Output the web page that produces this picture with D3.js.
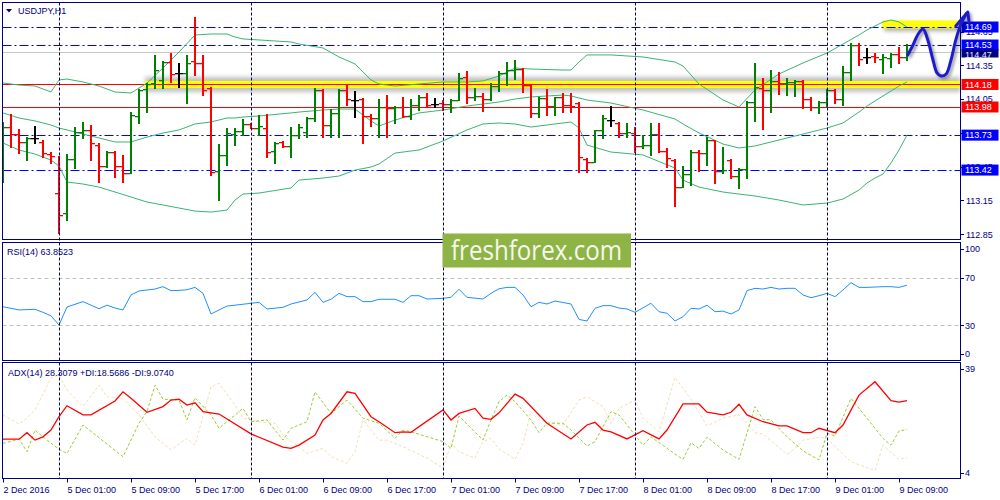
<!DOCTYPE html>
<html><head><meta charset="utf-8">
<script src="https://cdn.jsdelivr.net/npm/d3@7/dist/d3.min.js"></script>
<style>
html,body{margin:0;padding:0;background:#fff;overflow:hidden}
svg{display:block}
text{font-family:"Liberation Sans",Arial,sans-serif;font-size:9px;fill:#000080}
</style></head><body>
<svg id="chart" width="1000" height="500"></svg>
<script>
// ---------------- DATA ----------------
const symbolTitle = "USDJPY,H1";
const rsiTitle = "RSI(14) 63.8523";
const adxTitle = "ADX(14) 28.3079 +DI:18.5686 -DI:9.0740";

const open = [113.687,113.802,113.740,113.669,113.705,113.669,113.562,113.216,113.039,113.518,
113.758,113.776,113.642,113.456,113.580,113.456,113.394,113.900,114.140,114.193,
114.220,114.379,114.282,114.282,114.388,114.371,114.149,113.412,113.554,113.740,
113.767,113.829,113.793,113.793,113.589,113.669,113.634,113.731,113.758,113.882,
114.131,113.820,113.927,114.131,114.042,114.051,113.900,113.882,113.980,113.971,
113.980,113.900,113.998,114.069,114.006,114.015,114.006,114.042,114.246,114.069,
114.078,114.051,114.166,114.282,114.308,114.317,114.175,113.927,114.060,113.989,
114.069,113.998,114.015,113.518,113.491,113.776,113.864,113.838,113.749,113.749,
113.634,113.642,113.740,113.589,113.509,113.269,113.385,113.580,113.571,113.687,
113.412,113.509,113.367,113.429,114.024,114.149,114.131,114.211,114.193,114.202,
114.211,114.051,113.980,114.024,114.131,114.051,114.291,114.530,114.424,114.433,
114.406,114.415,114.450,114.424];
const high = [113.847,113.918,113.784,113.713,113.811,113.687,113.580,113.545,113.562,113.802,
113.847,113.820,113.660,113.589,113.589,113.554,113.935,114.140,114.193,114.442,
114.388,114.459,114.371,114.442,114.779,114.442,114.157,113.651,113.793,113.793,
113.873,113.838,113.909,113.918,113.669,113.678,113.802,113.829,113.891,114.149,
114.140,113.962,114.140,114.184,114.122,114.060,113.918,114.051,114.086,113.989,
114.069,114.051,114.086,114.104,114.060,114.042,114.051,114.282,114.300,114.149,
114.104,114.193,114.300,114.379,114.397,114.326,114.175,114.069,114.140,114.069,
114.104,114.104,114.024,113.527,113.776,113.909,113.989,113.847,113.838,113.802,
113.731,113.838,113.838,113.616,113.518,113.456,113.598,113.598,113.713,113.687,
113.625,113.518,113.438,114.033,114.371,114.237,114.308,114.291,114.237,114.220,
114.220,114.069,114.033,114.140,114.140,114.344,114.548,114.548,114.504,114.459,
114.450,114.459,114.513,114.539];
const low = [113.314,113.625,113.571,113.509,113.660,113.536,113.483,112.861,112.976,113.438,
113.705,113.509,113.314,113.447,113.358,113.314,113.394,113.838,113.935,114.149,
114.149,114.202,114.157,114.015,114.264,114.086,113.376,113.154,113.465,113.642,
113.731,113.793,113.731,113.536,113.483,113.625,113.536,113.705,113.713,113.856,
113.713,113.713,113.713,113.998,113.891,113.660,113.811,113.713,113.713,113.838,
113.891,113.873,113.953,113.980,113.980,113.953,113.935,114.042,114.015,114.042,
113.944,114.042,114.122,114.175,114.228,114.113,113.891,113.891,113.909,113.909,
113.935,113.935,113.403,113.403,113.491,113.705,113.811,113.713,113.713,113.580,
113.616,113.554,113.580,113.447,113.101,113.269,113.287,113.412,113.465,113.305,
113.394,113.349,113.261,113.349,113.856,113.784,113.935,114.095,114.086,114.078,
113.971,113.953,113.927,113.989,114.015,113.998,114.220,114.353,114.371,114.379,
114.282,114.335,114.371,114.397];
const close = [113.802,113.740,113.669,113.705,113.705,113.571,113.545,113.021,113.518,113.758,
113.776,113.660,113.456,113.580,113.456,113.394,113.909,114.131,114.184,114.308,
114.379,114.273,114.282,114.371,114.371,114.131,113.403,113.554,113.749,113.767,
113.829,113.793,113.811,113.580,113.660,113.634,113.731,113.802,113.882,114.131,
113.820,113.927,114.131,114.051,114.042,113.900,113.882,113.980,113.971,113.980,
113.900,113.998,114.069,113.998,114.006,114.006,114.042,114.237,114.069,114.078,
114.051,114.166,114.282,114.308,114.317,114.175,113.927,114.060,113.989,114.069,
113.998,113.989,113.536,113.491,113.776,113.882,113.864,113.749,113.758,113.634,
113.642,113.740,113.589,113.527,113.269,113.385,113.580,113.571,113.687,113.412,
113.420,113.367,113.429,114.024,114.157,114.131,114.211,114.193,114.202,114.211,
114.051,113.980,114.024,114.131,114.051,114.291,114.530,114.406,114.424,114.424,
114.424,114.450,114.424,114.468];

// Bollinger bands (sampled at bar indices)
const bbIdx = [0,2,4,6,7,8,10,12,14,16,18,20,22,24,26,28,29,30,32,36,37,40,42,44,46,47,49,52,55,58,60,62,64,66,70,71,72,73,76,80,84,85,87,90,92,94,97,100,103,105,107,108,109,110,111,112,113];
const bbUpper = [114.193,114.175,114.166,114.113,114.220,114.228,114.202,114.166,114.113,114.104,
114.193,114.326,114.468,114.619,114.628,114.628,114.601,114.584,114.575,114.557,
114.539,114.504,114.424,114.362,114.220,114.184,114.166,114.184,114.202,114.202,
114.211,114.255,114.326,114.317,114.308,114.308,114.379,114.442,114.442,114.424,
114.379,114.344,114.184,114.042,113.980,114.131,114.273,114.371,114.459,114.539,
114.619,114.664,114.699,114.735,114.752,114.735,114.690];
const bbMid = [113.927,113.882,113.856,113.820,113.793,113.776,113.740,113.705,113.669,113.669,
113.713,113.749,113.776,113.829,113.847,113.882,113.882,113.891,113.900,113.927,
113.935,113.953,113.962,113.962,113.856,113.811,113.864,113.927,113.953,113.989,
114.006,114.024,114.051,114.069,114.086,114.078,114.060,114.042,114.015,113.953,
113.873,113.829,113.749,113.651,113.616,113.634,113.687,113.740,113.793,113.838,
113.935,113.989,114.033,114.078,114.122,114.166,114.202];
const bbLower = [113.660,113.598,113.562,113.509,113.456,113.314,113.296,113.269,113.225,113.181,
113.136,113.110,113.083,113.056,113.047,113.065,113.154,113.207,113.216,113.261,
113.331,113.349,113.367,113.420,113.447,113.474,113.571,113.598,113.678,113.776,
113.829,113.838,113.829,113.802,113.838,113.847,113.793,113.642,113.580,113.554,
113.438,113.331,113.269,113.225,113.207,113.190,113.154,113.110,113.127,113.163,
113.243,113.305,113.349,113.385,113.483,113.598,113.731];

// RSI(14)
const rsiIdx = [0,2,4,5,6,7,8,10,12,13,14,15,16,17,19,20,21,22,23,24,25,26,28,29,31,32,33,35,36,38,39,40,41,42,43,44,45,46,47,49,50,51,52,53,55,56,57,58,60,61,62,63,64,65,66,67,68,69,71,72,73,74,75,76,77,78,79,81,82,83,84,85,86,87,88,89,90,91,92,93,94,95,96,97,98,99,100,101,102,103,104,105,106,107,108,109,110,111,112,113];
const rsiVal = [45.7,43,43.5,41,38,30.3,45.5,50,44,47,44.6,43,55.6,59,60.6,62.6,59.2,59.5,60,62,57,39.6,46.3,47,48.6,49.4,43.8,45.2,48,51.4,57.8,49.4,52,57,54.2,54.2,50,50,52,52,49.4,55,55,52.2,52.8,53.6,60.4,53.6,52.2,57,60.8,62,62,55.6,45.7,49.4,48,50.5,48,35,33.7,44.4,46.6,46.6,44.6,43.8,41,48.6,41.5,40.2,33.7,37.3,44.4,43.8,47,41.5,42,39.6,43,59.2,61.2,60.6,62,60.6,61.2,61.2,55.6,53.3,55,57,54.2,59.8,66,62,62,62.3,62.6,62.6,62,63.85];

// ADX(14)
const adxIdx = [0,2,3,4,5,6,7,8,10,11,14,15,16,18,20,21,22,23,24,25,27,31,35,36,37,39,40,41,43,44,46,47,49,50,51,55,56,57,59,60,61,62,64,65,68,71,73,74,75,76,78,80,82,83,85,87,88,90,91,92,93,95,97,98,100,101,102,104,105,107,109,111,112,113];
const adxVal = [15.3,15.3,17.5,15,16.1,18.4,22.9,26.6,23.5,23.5,28.2,31.3,29.1,24.4,26.3,28.5,28.8,26.8,27.6,24.6,23.8,17.1,12.6,12.2,13.3,16.7,21.8,24,31.3,30.8,22.9,21.2,17.5,17.8,17.6,25.2,21.8,24,25.7,22.4,22,24.2,30.5,29.1,20.7,15.4,20.1,21,18.4,17.8,15.4,18.2,15.4,18.4,27.2,27.2,24.4,23.5,24.4,27.1,23.5,21.2,19.8,19.8,17.5,17.5,19,17.5,20.1,30.2,34.7,28.3,27.8,28.31];
const pdiIdx = [0,2,3,4,5,7,8,10,15,17,18,19,20,22,23,24,26,27,30,31,33,35,36,38,39,41,43,45,47,49,50,51,55,56,57,60,61,62,63,64,66,67,68,70,71,73,74,76,77,79,80,81,84,85,86,87,88,90,92,94,95,96,98,100,102,103,104,106,107,109,110,111,112,113];
const pdiVal = [13.9,15.3,11.1,18.4,16.1,11.9,10.5,20.1,9.4,20.7,24.6,33.6,28.8,28.5,21.8,29.3,23.5,19,25.7,21.2,21.8,15,19,21.2,31.3,24,28.5,22.4,20.7,15.6,18.4,17.8,14.5,12.2,23.1,15,21.8,28,30.2,28,21.8,17.5,20.7,20.7,18.4,13,14.5,24.6,23.5,16.7,13.3,16.1,10.3,8.5,14.1,12.2,16,11.7,8.5,26.3,22,21.8,16.1,11.4,8.3,17.3,16.4,29.1,25.7,19,15.6,13.3,18.1,18.57];
const mdiIdx = [0,2,3,4,6,7,8,10,12,13,15,17,19,21,23,24,26,27,29,30,32,34,35,38,40,41,43,44,45,47,48,50,53,55,56,57,59,60,61,62,64,65,66,67,70,72,73,75,76,77,79,80,82,84,86,88,90,92,94,95,98,99,100,102,103,104,106,109,110,112,113];
const mdiVal = [23.5,20.4,22.4,25.2,35.9,37,31.9,26.3,33.6,29.6,29.1,23.5,16.1,11.7,15.6,13.3,33,34.2,26.8,22.4,21.2,20.7,16.7,10.5,12.2,9.4,7.2,11.1,21.8,15,15,12.8,8.9,5.5,13.9,11.1,8.9,14.5,15.6,12,8.5,13.9,24.6,21.8,20.1,28.5,29.6,26.3,20.7,25.7,28.5,22.4,17.8,36.2,28.8,19.8,22.4,23.5,17.5,17.1,10.2,12.2,15,16,15.6,12.8,7.7,4.7,13.3,8.5,9.07];

// Horizontal levels
const blueLevels = [114.69, 114.53, 113.73, 113.42];
const redLevels = [114.18, 113.98];
const bidPrice = 114.468;
const bidLabel = "114.47";
const yellowZone = {fromBar: 17.75, price: 114.18};
const yellowTop = {fromBar: 109.9, price: 114.69};

// Axis ticks
const priceTicks = [112.85, 113.15, 113.45, 113.75, 114.05, 114.35, 114.65];
const rsiTicks = [100, 70, 30, 0];
const rsiLevels = [70, 30];
const adxTicks = [39, 4];
const timeTickIdx = [0,8,16,24,32,40,48,56,64,72,80,88,96,104,112];
const timeTickLbl = ["2 Dec 2016","5 Dec 01:00","5 Dec 09:00","5 Dec 17:00","6 Dec 01:00","6 Dec 09:00","6 Dec 17:00","7 Dec 01:00","7 Dec 09:00","7 Dec 17:00","8 Dec 01:00","8 Dec 09:00","8 Dec 17:00","9 Dec 01:00","9 Dec 09:00"];
const daySepIdx = [7,31,55,79,103];

// Level label boxes
const boxLevels = [114.69, 114.53, 114.18, 113.98, 113.73, 113.42];
const boxColors = ['#0000ff', '#0000ff', '#ff0000', '#ff0000', '#0000ff', '#0000ff'];

// Hand-drawn forecast arrow (bar index, price)
const arrowIdx = [113.1,113.75,114.4,115,115.6,116.25,116.75,117.25,117.9,118.5,119.1,119.75,120.4];
const arrowPrice = [114.442,114.530,114.628,114.672,114.575,114.397,114.282,114.255,114.273,114.397,114.575,114.717,114.806];
const arrowHeadIdx = [119.1,120.6,120.75];
const arrowHeadPrice = [114.699,114.823,114.735];

const watermark = "freshforex.com";

// ---------------- LAYOUT ----------------
const svg = d3.select('#chart');
const L = 2.5, R = 960.5;
const mainY = [2.5, 239.5], rsiY = [242.5, 360.5], adxY = [362.5, 478.5];
const x = d3.scaleLinear().domain([0,113]).range([3,907]);
const yP = d3.scaleLinear().domain([112.808,114.912]).range([239,2]);
const yR = d3.scaleLinear().domain([0,100]).range([361,242.25]);
const yA = d3.scaleLinear().domain([4,39]).range([472.7,369]);
const navy = '#000080';
const sn = v => Math.round(v) + 0.5;

const defs = svg.append('defs');
function clip(id, y0, y1){
  defs.append('clipPath').attr('id', id).append('rect')
    .attr('x', L).attr('y', y0).attr('width', R - L).attr('height', y1 - y0);
}
clip('cm', mainY[0], mainY[1]); clip('cr', rsiY[0], rsiY[1]); clip('ca', adxY[0], adxY[1]);
const fb = defs.append('filter').attr('id','blur').attr('x','-10%').attr('y','-200%').attr('width','120%').attr('height','500%');
fb.append('feGaussianBlur').attr('stdDeviation', 2.2);
const fa = defs.append('filter').attr('id','ashadow').attr('x','-50%').attr('y','-50%').attr('width','200%').attr('height','200%');
fa.append('feDropShadow').attr('dx',2).attr('dy',2).attr('stdDeviation',1.6).attr('flood-color','#000').attr('flood-opacity',0.4);

svg.append('rect').attr('width',1000).attr('height',500).attr('fill','#fff');

// ---------------- MAIN PANEL ----------------
const gm = svg.append('g').attr('clip-path','url(#cm)');

// yellow highlight zones with soft shadow
{
  const x0 = x(yellowZone.fromBar), yy = yP(yellowZone.price);
  gm.append('rect').attr('x', x0).attr('y', yy - 7.5).attr('width', R - x0).attr('height', 15)
    .attr('fill', '#9a9a9a').attr('opacity', 0.6).attr('filter', 'url(#blur)');
  gm.append('rect').attr('x', x0).attr('y', yy - 3.5).attr('width', R - x0).attr('height', 7).attr('fill', '#ffff00');
}
{
  const x0 = x(yellowTop.fromBar), yy = yP(yellowTop.price);
  gm.append('rect').attr('x', x0 + 2).attr('y', yy - 4).attr('width', R - x0).attr('height', 8)
    .attr('fill', '#8a8a8a').attr('opacity', 0.7).attr('filter', 'url(#blur)');
  gm.append('rect').attr('x', x0).attr('y', yy - 6.5).attr('width', R - x0).attr('height', 8).attr('fill', '#ffff00');
}

// horizontal levels
gm.selectAll('line.bl').data(blueLevels).join('line')
  .attr('x1', L).attr('x2', R).attr('y1', d => sn(yP(d))).attr('y2', d => sn(yP(d)))
  .attr('stroke', '#0000ff').attr('stroke-width', 1).attr('stroke-dasharray', '9,3,2,3');
gm.selectAll('line.rl').data(redLevels).join('line')
  .attr('x1', L).attr('x2', R).attr('y1', d => sn(yP(d))).attr('y2', d => sn(yP(d)))
  .attr('stroke', '#ff0000').attr('stroke-width', 1);
gm.append('line').attr('x1', L).attr('x2', R).attr('y1', sn(yP(bidPrice))).attr('y2', sn(yP(bidPrice)))
  .attr('stroke', '#c8c8c8').attr('stroke-width', 1);

// Bollinger bands
const bbLine = arr => d3.line().x((d,i) => x(bbIdx[i])).y(d => yP(d))(arr);
[bbUpper, bbMid, bbLower].forEach(arr => {
  gm.append('path').attr('d', bbLine(arr)).attr('fill','none').attr('stroke','#3cb371').attr('stroke-width',1);
});

// OHLC bars
const bars = open.map((o,i) => ({i, o, h: high[i], l: low[i], c: close[i]}));
const col = d => d.c > d.o ? '#008000' : (d.c < d.o ? '#ff0000' : '#000000');
const gb = gm.append('g');
gb.selectAll('rect.v').data(bars).join('rect')
  .attr('x', d => Math.round(x(d.i)) - 1).attr('width', 2)
  .attr('y', d => Math.round(yP(d.h))).attr('height', d => Math.max(1, Math.round(yP(d.l)) - Math.round(yP(d.h)) + 1))
  .attr('fill', col);
gb.selectAll('rect.o').data(bars).join('rect')
  .attr('x', d => Math.round(x(d.i)) - 4).attr('width', 3)
  .attr('y', d => Math.round(yP(d.o))).attr('height', 1.3).attr('fill', col);
gb.selectAll('rect.c').data(bars).join('rect')
  .attr('x', d => Math.round(x(d.i)) + 1).attr('width', 3)
  .attr('y', d => Math.round(yP(d.c))).attr('height', 1.3).attr('fill', col);

// ---------------- RSI PANEL ----------------
const gr = svg.append('g').attr('clip-path','url(#cr)');
gr.selectAll('line').data(rsiLevels).join('line')
  .attr('x1', L).attr('x2', R).attr('y1', d => sn(yR(d))).attr('y2', d => sn(yR(d)))
  .attr('stroke', '#c0c0c0').attr('stroke-dasharray', '4,3');
gr.append('path').attr('d', d3.line().x((d,i) => x(rsiIdx[i])).y(d => yR(d))(rsiVal))
  .attr('fill','none').attr('stroke','#1e90ff').attr('stroke-width',1);

// ---------------- ADX PANEL ----------------
const ga = svg.append('g').attr('clip-path','url(#ca)');
ga.append('path').attr('d', d3.line().x((d,i) => x(mdiIdx[i])).y(d => yA(d))(mdiVal))
  .attr('fill','none').attr('stroke','#f5deb3').attr('stroke-width',1).attr('stroke-dasharray','3,2');
ga.append('path').attr('d', d3.line().x((d,i) => x(pdiIdx[i])).y(d => yA(d))(pdiVal))
  .attr('fill','none').attr('stroke','#9acd32').attr('stroke-width',1).attr('stroke-dasharray','3,2');
ga.append('path').attr('d', d3.line().x((d,i) => x(adxIdx[i])).y(d => yA(d))(adxVal))
  .attr('fill','none').attr('stroke','#ff0000').attr('stroke-width',1.3);

// ---------------- SEPARATORS & FRAMES ----------------
svg.selectAll('line.sep').data(daySepIdx).join('line')
  .attr('x1', d => sn(x(d))).attr('x2', d => sn(x(d))).attr('y1', mainY[0]).attr('y2', adxY[1])
  .attr('stroke', navy).attr('stroke-width', 1).attr('stroke-dasharray', '3,2');
[mainY, rsiY, adxY].forEach(p => {
  svg.append('rect').attr('x', L).attr('y', p[0]).attr('width', R - L).attr('height', p[1] - p[0])
    .attr('fill', 'none').attr('stroke', navy).attr('stroke-width', 1);
});

// titles
svg.append('path').attr('d', d3.line()([[6,9],[12,9],[9,12.5]]) + 'Z').attr('fill', navy);
svg.append('text').attr('x', 18).attr('y', 13.5).text(symbolTitle);
svg.append('text').attr('x', 7).attr('y', 255).text(rsiTitle);
svg.append('text').attr('x', 8).attr('y', 375.5).text(adxTitle);

// ---------------- AXES ----------------
// price axis (labels fully covered by a level box are hidden, as in the terminal)
const coveredByBox = t => boxLevels.some(b => Math.abs(yP(b) - yP(t)) < 3);
const ga1 = svg.append('g');
ga1.selectAll('line').data(priceTicks).join('line')
  .attr('x1', R).attr('x2', R + 3.5).attr('y1', d => sn(yP(d))).attr('y2', d => sn(yP(d))).attr('stroke', navy);
ga1.selectAll('text').data(priceTicks.filter(t => !coveredByBox(t))).join('text')
  .attr('x', 966).attr('y', d => yP(d) + 3.3).text(d => d.toFixed(2));

// level label boxes
boxLevels.forEach((p, k) => {
  const yy = yP(p);
  svg.append('rect').attr('x', 961.5).attr('y', yy - 5.5).attr('width', 37).attr('height', 11).attr('fill', boxColors[k]);
  svg.append('text').attr('x', 965).attr('y', yy + 3.3).style('fill', '#fff').text(p.toFixed(2));
});
{
  const yy = yP(bidPrice);
  svg.append('rect').attr('x', 961.5).attr('y', yy - 2.8).attr('width', 37).attr('height', 8.3).attr('fill', '#000080');
  svg.append('text').attr('x', 965).attr('y', yy + 5.6).style('fill', '#e8e8f0').text(bidLabel);
}

// RSI axis
const rsiLblY = v => Math.min(Math.max(yR(v), rsiY[0] + 6.5), rsiY[1] - 6.5);
svg.selectAll('line.rt').data(rsiTicks).join('line')
  .attr('x1', R).attr('x2', R + 3.5).attr('y1', d => sn(rsiLblY(d))).attr('y2', d => sn(rsiLblY(d))).attr('stroke', navy);
svg.selectAll('text.rt').data(rsiTicks).join('text')
  .attr('x', 965).attr('y', d => rsiLblY(d) + 3.3).text(d => d);

// ADX axis
svg.selectAll('line.at').data(adxTicks).join('line')
  .attr('x1', R).attr('x2', R + 3.5).attr('y1', d => sn(yA(d))).attr('y2', d => sn(yA(d))).attr('stroke', navy);
svg.selectAll('text.at').data(adxTicks).join('text')
  .attr('x', 965).attr('y', d => yA(d) + 3.3).text(d => d);

// time axis
svg.selectAll('line.tt').data(timeTickIdx).join('line')
  .attr('x1', d => sn(x(d))).attr('x2', d => sn(x(d))).attr('y1', adxY[1]).attr('y2', adxY[1] + 4).attr('stroke', navy);
svg.selectAll('text.tt').data(timeTickIdx).join('text')
  .attr('x', d => x(d) + 0.5).attr('y', 492.5).text((d,i) => timeTickLbl[i]);

// ---------------- WATERMARK ----------------
svg.append('rect').attr('x', 442.5).attr('y', 233.5).attr('width', 188.5).attr('height', 34).attr('fill', '#8fb446');
svg.append('text').attr('x', 451).attr('y', 260).attr('textLength', 171).attr('lengthAdjust', 'spacingAndGlyphs')
  .style('font-family', '"Open Sans","Noto Sans",sans-serif').style('font-size', '27px').style('fill', '#f5f8ee')
  .text(watermark);

// ---------------- FORECAST ARROW ----------------
const arrowPts = arrowIdx.map((d,i) => [x(d), yP(arrowPrice[i])]);
const headPts = arrowHeadIdx.map((d,i) => [x(d), yP(arrowHeadPrice[i])]);
const ga2 = svg.append('g').attr('filter', 'url(#ashadow)');
ga2.append('path').attr('d', d3.line().curve(d3.curveCatmullRom)(arrowPts))
  .attr('fill','none').attr('stroke','#1c1ccc').attr('stroke-width',3).attr('stroke-linecap','round').attr('stroke-linejoin','round');
ga2.append('path').attr('d', d3.line()(headPts))
  .attr('fill','none').attr('stroke','#1c1ccc').attr('stroke-width',3).attr('stroke-linecap','round').attr('stroke-linejoin','round');
</script>
</body></html>
